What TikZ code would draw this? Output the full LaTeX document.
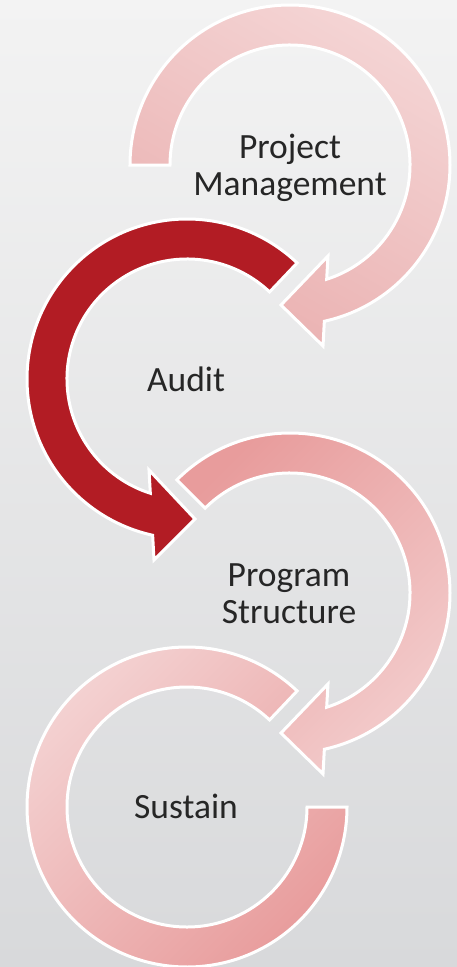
\documentclass[tikz,border=0pt]{standalone}
\usepackage{fontspec}
\setmainfont{Carlito}
\definecolor{auditred}{HTML}{B21C24}
\definecolor{pinktop}{HTML}{F4D4D4}
\definecolor{pinkmid}{HTML}{EAB0B0}
\definecolor{pinkdark}{HTML}{E89C9C}
\definecolor{pinklight}{HTML}{F3CDCD}
\definecolor{bgtop}{HTML}{F3F3F3}
\definecolor{bgbottom}{HTML}{D8D9DB}
\definecolor{textgray}{HTML}{262626}

\begin{document}
\begin{tikzpicture}[x=1pt, y=1pt,
    arcline/.style={draw=white, line width=3pt},
    steptext/.style={font=\fontsize{35.5}{37}\selectfont, text=textgray, align=center, inner sep=0pt}]

  % backdrop
  \shade[top color=bgtop, bottom color=bgbottom] (0,0) rectangle (457,-967);
  \useasboundingbox (0,0) rectangle (457,-967);

  % project management, turning clockwise
  \begin{scope}[shift={(290,-165)}]
    \path[arcline, top color=pinktop, bottom color=pinkmid, shading angle=-30]
      (180:160) arc[start angle=180, end angle=-77.6, radius=160]
      -- (33,-181) -- (-9,-140) -- (38,-91) -- (-72.2:120)
      arc[start angle=-72.2, end angle=180, radius=120] -- cycle;
  \end{scope}

  % audit, turning the other way
  \begin{scope}[shift={(187,-379)}]
    \path[arcline, fill=auditred]
      (46.5:160) arc[start angle=46.5, end angle=257.6, radius=160]
      -- (-33,-181) -- (8,-140) -- (-38,-91) -- (252.2:120)
      arc[start angle=252.2, end angle=46.5, radius=120] -- cycle;
  \end{scope}

  % program structure
  \begin{scope}[shift={(290,-593)}]
    \path[arcline, top color=pinkdark, bottom color=pinklight, shading angle=45]
      (135:160) arc[start angle=135, end angle=-77.6, radius=160]
      -- (33,-181) -- (-9,-140) -- (38,-91) -- (-72.2:120)
      arc[start angle=-72.2, end angle=135, radius=120] -- cycle;
  \end{scope}

  % sustain, no head
  \begin{scope}[shift={(187,-807)}]
    \path[arcline, top color=pinktop, bottom color=pinkdark, shading angle=45]
      (46.5:160) arc[start angle=46.5, end angle=360, radius=160]
      -- (0:120)
      arc[start angle=360, end angle=46.5, radius=120] -- cycle;
  \end{scope}

  \node[steptext] (project) at (290,-168) {Project\\Management};
  \node[steptext, anchor=base] (audit) at (186,-391) {Audit};
  \node[steptext] (program) at (289,-594) {Program\\Structure};
  \node[steptext, anchor=base] (sustain) at (186,-818) {Sustain};
\end{tikzpicture}
\end{document}
